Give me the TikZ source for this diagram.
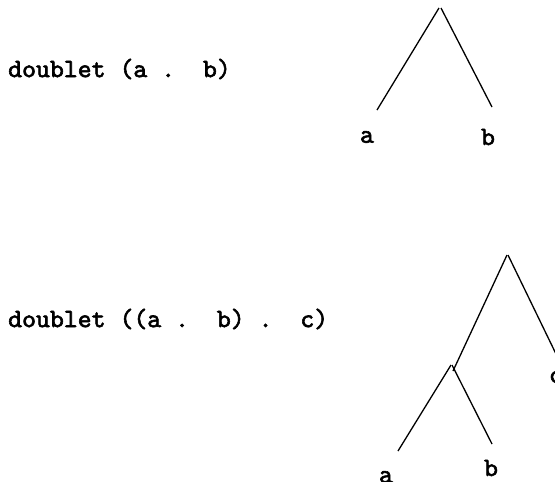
\documentclass[tikz,border=0pt]{standalone}
\usepackage{fontspec}
\newfontfamily\boldtt{lmmono10-regular.otf}[FakeBold=2.2]
\begin{document}
\begin{tikzpicture}[x=1pt,y=-1pt,
  txt/.style={font=\fontsize{26.5}{29}\selectfont\boldtt,inner sep=0pt},
  lbl/.style={font=\fontsize{26.5}{29}\selectfont\boldtt,inner sep=0pt},
  branch/.style={line width=1.3pt}]
\useasboundingbox (0,0) rectangle (555,482);
% first expression
\node[txt,anchor=west] (e1) at (8,69) {doublet (a .\ \ b)};
\coordinate (r1) at (439,8);
\coordinate (r1a) at (377,110);
\coordinate (r1b) at (492,107);
\node[lbl] (a1) at (367,137) {a};
\node[lbl] (b1) at (488,137) {b};
\draw[branch] (r1) -- (r1a);
\draw[branch] ([xshift=2pt]r1) -- (r1b);
% second expression
\node[txt,anchor=west] (e2) at (8,319) {doublet ((a .\ \ b) .\ \ c)};
\coordinate (r2) at (507,255);
\coordinate (n2) at (451,365);
\coordinate (r2c) at (557,356);
\coordinate (n2a) at (398,451);
\coordinate (n2b) at (492,444);
\node[lbl] (c2) at (556,377) {c};
\node[lbl] (a2) at (386,477) {a};
\node[lbl] (b2) at (491,468) {b};
\draw[branch] (r2) -- ([xshift=2pt,yshift=-6pt]n2);
\draw[branch] ([xshift=1pt]r2) -- (r2c);
\draw[branch] (n2) -- (n2a);
\draw[branch] ([xshift=1pt]n2) -- (n2b);
\end{tikzpicture}
\end{document}
